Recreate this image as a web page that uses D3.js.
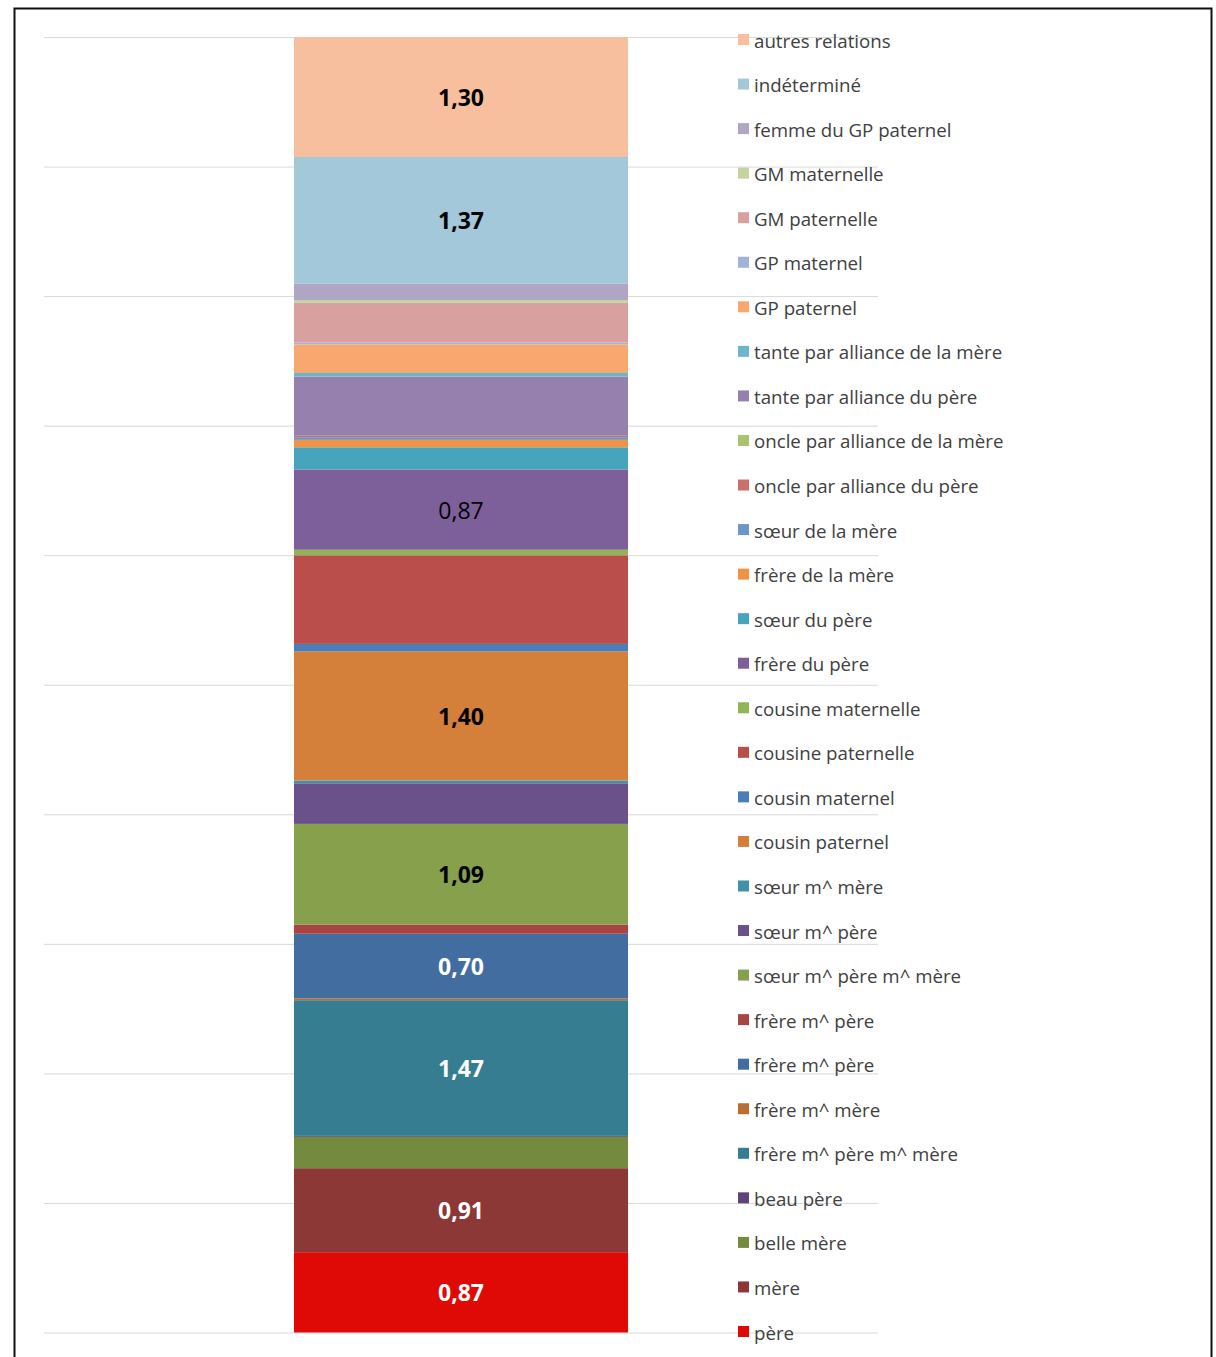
<!DOCTYPE html>
<html>
<head>
<meta charset="utf-8">
<script src="https://cdn.jsdelivr.net/npm/d3@7"></script>
<style>
  body { margin: 0; background: #fff; }
  svg text { font-family: "Open Sans", "DejaVu Sans", sans-serif; }
</style>
</head>
<body>
<div id="chart"></div>
<script>
// categories, stacked from the bottom of the bar upwards
// (two series share the name "frère m^ père", the second one carries a trailing space as key)
var categories = ["père", "mère", "belle mère", "beau père", "frère m^ père m^ mère",
  "frère m^ mère", "frère m^ père", "frère m^ père ", "sœur m^ père m^ mère", "sœur m^ père",
  "sœur m^ mère", "cousin paternel", "cousin maternel", "cousine paternelle", "cousine maternelle",
  "frère du père", "sœur du père", "frère de la mère", "sœur de la mère", "oncle par alliance du père",
  "oncle par alliance de la mère", "tante par alliance du père", "tante par alliance de la mère",
  "GP paternel", "GP maternel", "GM paternelle", "GM maternelle", "femme du GP paternel",
  "indéterminé", "autres relations"];
var values = [0.87, 0.91, 0.34, 0.01, 1.47,
  0.02, 0.70, 0.10, 1.09, 0.44,
  0.03, 1.40, 0.08, 0.96, 0.06,
  0.87, 0.24, 0.08, 0.03, 0.015,
  0, 0.64, 0.04,
  0.31, 0.02, 0.43, 0.03, 0.18,
  1.37, 1.30];
var colors = ["#df0a05", "#8c3836", "#748a3f", "#5e4479", "#367d92",
  "#bc6e32", "#416da0", "#a84442", "#87a04c", "#6a5189",
  "#3d93aa", "#d4803a", "#4a7ebb", "#b94e4b", "#91b554",
  "#7d5f9a", "#46a5bd", "#f19345", "#7295c9", "#cc6e6c",
  "#a9c46c", "#9580ae", "#6db5ca",
  "#f8a76f", "#a1b3d6", "#d8a1a0", "#c3d49e", "#b1a5c5",
  "#a2c8d9", "#f8bf9f"];

var labelled = ["père", "mère", "frère m^ père m^ mère", "frère m^ père", "sœur m^ père m^ mère",
  "cousin paternel", "frère du père", "indéterminé", "autres relations"];
var whiteLabels = ["père", "mère", "frère m^ père m^ mère", "frère m^ père"];
var plainLabels = ["frère du père"];

var W = 1216, H = 1357;
var plot = {left: 44, right: 878, top: 37, bottom: 1332.5};

var svg = d3.select("#chart").append("svg")
    .attr("width", W)
    .attr("height", H);

// outer frame
svg.append("rect")
    .attr("x", 14.5).attr("y", 8.5)
    .attr("width", 1197).attr("height", 1370)
    .attr("fill", "none")
    .attr("stroke", "#111")
    .attr("stroke-width", 2);

var total = d3.sum(values);
var row = {};
categories.forEach((c, i) => row[c] = values[i] / total * 100);

var y = d3.scaleLinear()
    .domain([0, 100])
    .range([plot.bottom, plot.top]);

var x = d3.scaleBand()
    .domain(["total"])
    .range([plot.left, plot.right])
    .paddingInner(0.428)
    .paddingOuter(0.428);

// gridlines (100% stacked, every 10%)
var grid = svg.append("g")
    .attr("transform", `translate(${plot.left},0)`)
    .call(d3.axisLeft(y).ticks(10).tickSize(-(plot.right - plot.left)).tickFormat(""));
grid.select(".domain").remove();
grid.selectAll("line").attr("stroke", "#d9d9d9").attr("stroke-width", 1);

var series = d3.stack().keys(categories)([row]);

svg.append("g")
    .selectAll("rect")
    .data(series)
    .join("rect")
    .attr("x", x("total"))
    .attr("width", x.bandwidth())
    .attr("y", d => y(d[0][1]))
    .attr("height", d => y(d[0][0]) - y(d[0][1]))
    .attr("fill", (d, i) => colors[i]);

// data labels
svg.append("g")
    .selectAll("text")
    .data(series.filter(d => labelled.includes(d.key)))
    .join("text")
    .attr("x", x("total") + x.bandwidth() / 2)
    .attr("y", d => (y(d[0][0]) + y(d[0][1])) / 2)
    .attr("text-anchor", "middle")
    .attr("dominant-baseline", "central")
    .attr("font-size", 23)
    .attr("font-weight", d => plainLabels.includes(d.key) ? "normal" : "bold")
    .attr("fill", d => whiteLabels.includes(d.key) ? "#fff" : "#000")
    .text(d => values[categories.indexOf(d.key)].toFixed(2).replace(".", ","));

// legend, top to bottom in reverse stacking order
var ly = d3.scalePoint()
    .domain(categories.slice().reverse())
    .range([40, 1332]);

var legend = svg.append("g")
    .selectAll("g")
    .data(categories)
    .join("g")
    .attr("transform", d => `translate(738,${ly(d)})`);

legend.append("rect")
    .attr("x", 0).attr("y", -6)
    .attr("width", 11).attr("height", 11)
    .attr("fill", (d, i) => colors[i]);

legend.append("text")
    .attr("x", 16)
    .attr("y", 0)
    .attr("dominant-baseline", "central")
    .attr("font-size", 18.7)
    .attr("fill", "#404040")
    .text(d => d.trim());
</script>
</body>
</html>
